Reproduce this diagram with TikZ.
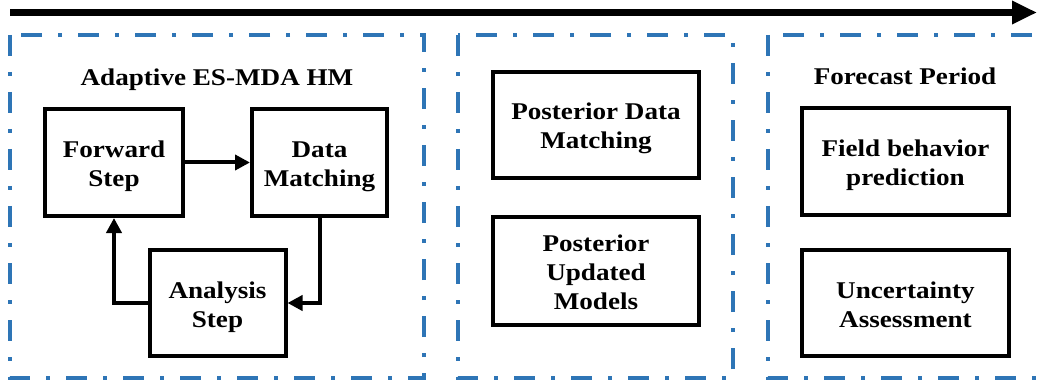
\documentclass[tikz,border=0pt]{standalone}
\usepackage{fontspec}
\setmainfont{Liberation Serif}
\newfontfamily\labelfont[FakeStretch=1.13]{Liberation Serif}
\usetikzlibrary{arrows.meta}
\definecolor{frameblue}{RGB}{46,117,182}
% struts that fix the height of the first and the depth of the last line
\newcommand{\htstrut}{\rule{0pt}{27pt}}
\newcommand{\dpstrut}{\rule[-8pt]{0pt}{0pt}}
\tikzset{
  stage/.style={draw=frameblue, line width=4.5pt,
    dash pattern=on 21pt off 16pt on 4pt off 16pt},
  stepbox/.style={draw=black, line width=4pt, fill=white, align=center,
    inner sep=0pt, font=\labelfont\bfseries\fontsize{24}{29}\selectfont},
  heading/.style={font=\labelfont\bfseries\fontsize{24}{29}\selectfont, inner sep=0pt},
  flow/.style={line width=4pt, -{Triangle[length=15pt,width=15pt]}},
}
\begin{document}
\begin{tikzpicture}[x=1pt, y=-1pt]
  \useasboundingbox (0,0) rectangle (1037,385);
  \clip (0,0) rectangle (1037,385);

  % time axis
  \coordinate (t0) at (10,12.5);
  \coordinate (t1) at (1037,12.5);
  \draw[line width=7pt, -{Triangle[length=25pt,width=22pt]}] (t0) -- (t1);

  % stage frames
  \draw[stage] (10,35) rectangle (424,378);
  \draw[stage] (458,35) rectangle (733,378);
  \draw[stage] (768,35) rectangle (1070,378);

  % history matching loop
  \node[heading] (hm) at (217,80) {Adaptive ES-MDA HM};
  \node[stepbox, minimum width=138pt, minimum height=107pt] (fwd) at (114,162.5) {\htstrut Forward\\Step\dpstrut};
  \node[stepbox, minimum width=135pt, minimum height=107pt] (dm) at (319.5,162.5) {\htstrut Data\\Matching\dpstrut};
  \node[stepbox, minimum width=136pt, minimum height=106pt] (an) at (217.5,303) {\htstrut Analysis\\Step\dpstrut};
  \draw[flow] (fwd.east) -- (dm.west);
  \draw[flow] (dm.south) |- (an.east);
  \draw[flow] (an.west) -| (fwd.south);

  % posterior stage
  \node[stepbox, minimum width=206pt, minimum height=106pt] (pdm) at (596,125) {\htstrut Posterior Data\\Matching\dpstrut};
  \node[stepbox, minimum width=206pt, minimum height=108pt] (pum) at (596,271) {\htstrut Posterior\\Updated\\Models\dpstrut};

  % forecast stage
  \node[heading] (fp) at (905,76) {Forecast Period};
  \node[stepbox, minimum width=207pt, minimum height=107pt] (fbp) at (905.5,161.5) {\htstrut Field behavior\\prediction\dpstrut};
  \node[stepbox, minimum width=207pt, minimum height=106pt] (ua) at (905.5,303) {\htstrut Uncertainty\\Assessment\dpstrut};
\end{tikzpicture}
\end{document}
